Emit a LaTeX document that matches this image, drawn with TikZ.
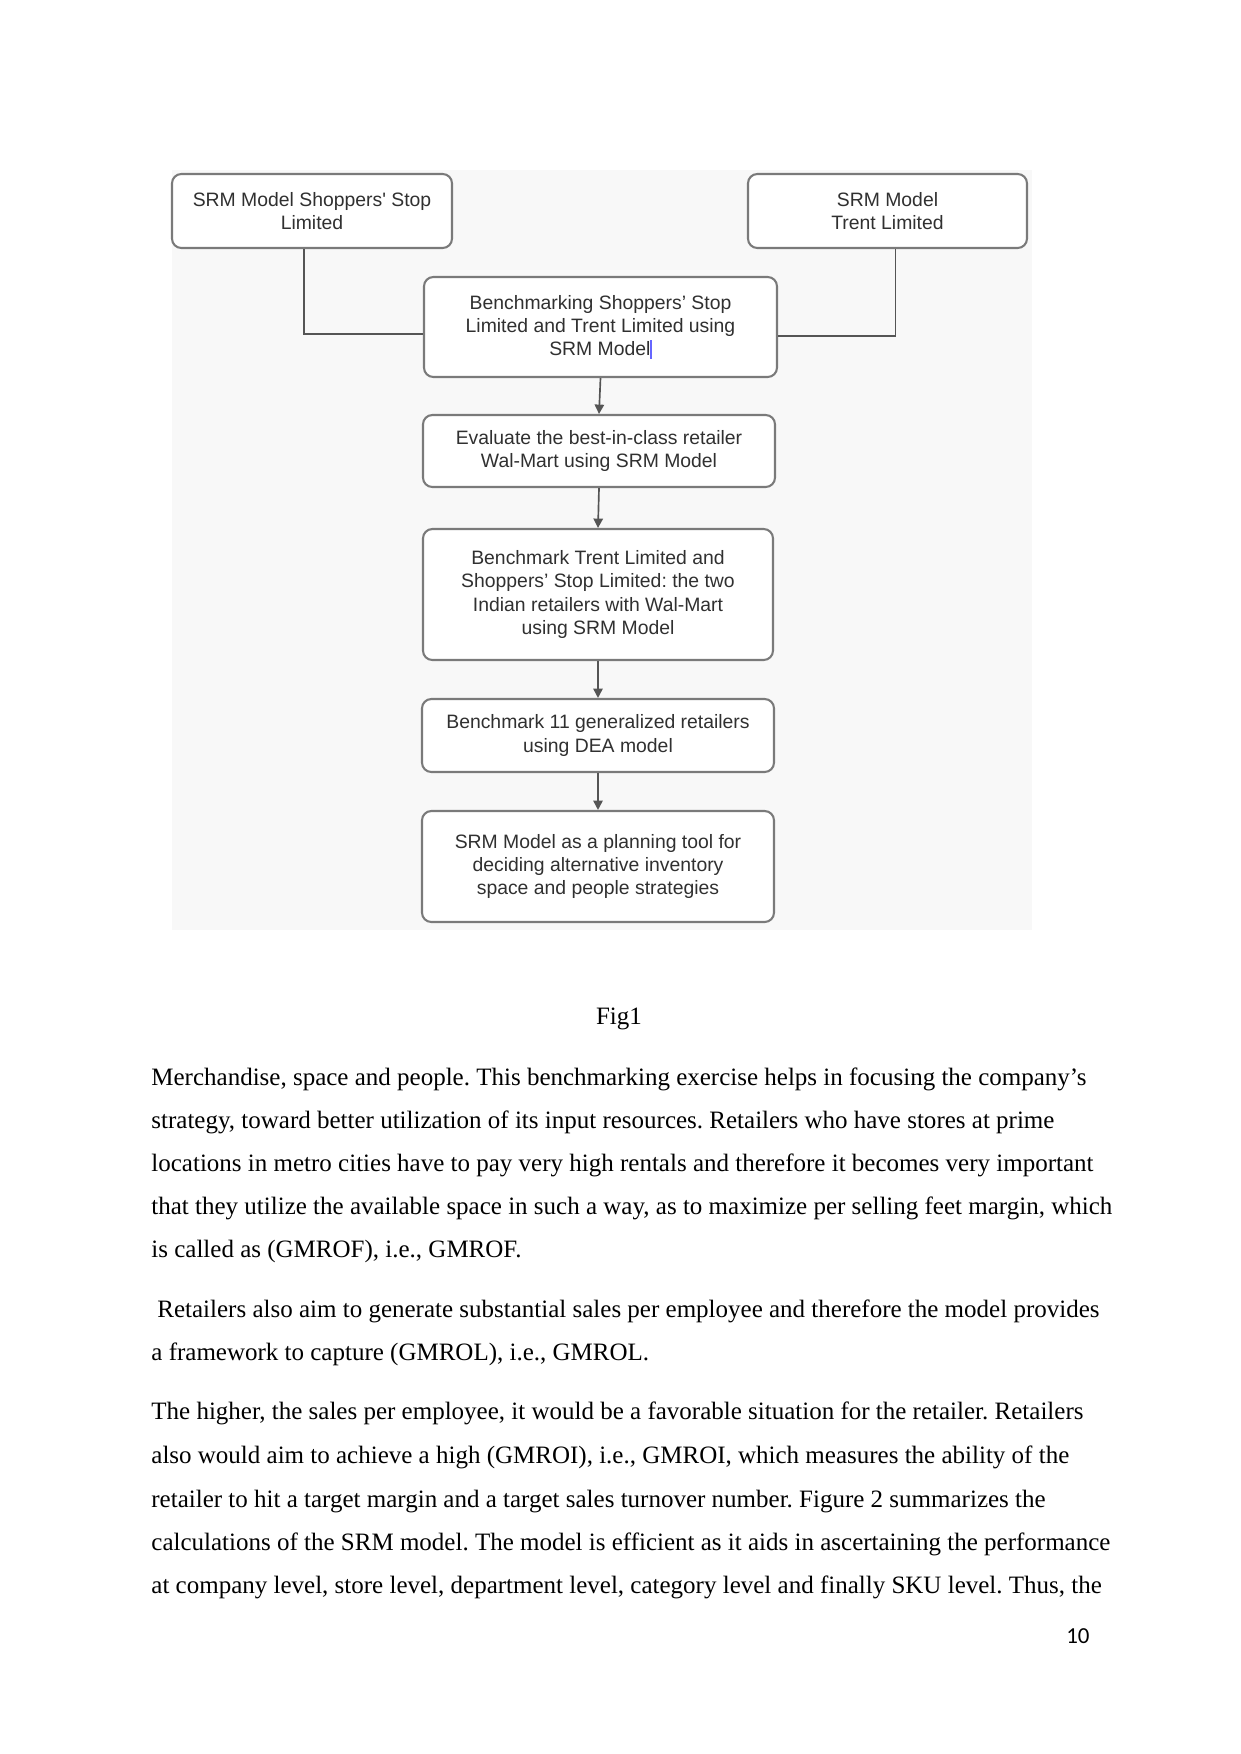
\documentclass[tikz,border=0pt]{standalone}
\usepackage{fontspec}
\setmainfont{Liberation Serif}
\newfontfamily\boxfont{Liberation Sans}
\newfontfamily\numfont{Carlito}
\usetikzlibrary{arrows.meta}
\frenchspacing
\newcommand\pxu{0.48pt}
\definecolor{boxline}{HTML}{7A7A7A}
\definecolor{boxtext}{HTML}{303030}
\definecolor{conline}{HTML}{555555}
\definecolor{figbg}{HTML}{F8F8F8}
\tikzset{
  flowbox/.style={draw=boxline, line width=1pt, rounded corners=4.5pt, fill=white,
    align=center, inner sep=2pt, text=boxtext,
    font=\boxfont\fontsize{9.3}{11.2}\selectfont},
  link/.style={draw=conline, line width=0.8pt},
  flowarrow/.style={link, -{Triangle[length=4.5pt,width=4.5pt]}},
  bodyline/.style={anchor=base west, inner sep=0pt, font=\fontsize{12}{14}\selectfont}
}
\begin{document}
\begin{tikzpicture}[x=0.48pt, y=-0.48pt]
\useasboundingbox (0,0) rectangle (1241,1754);
\fill[white] (0,0) rectangle (1241,1754);
\fill[figbg] (172,170) rectangle (1032,930);

\node[flowbox, minimum width=280*\pxu, minimum height=74*\pxu] (b1) at (312,211)
  {SRM Model Shoppers' Stop\\Limited};
\node[flowbox, minimum width=279*\pxu, minimum height=74*\pxu] (bt) at (887.5,211)
  {SRM Model\\Trent Limited};
\node[flowbox, minimum width=353*\pxu, minimum height=100*\pxu] (b2) at (600.5,327)
  {Benchmarking Shoppers’ Stop\\Limited and Trent Limited using\\SRM Model\textcolor{blue!60}{\rule[-1.5pt]{0.6pt}{9pt}}};
\node[flowbox, minimum width=352*\pxu, minimum height=72*\pxu] (b3) at (599,451)
  {Evaluate the best-in-class retailer\\Wal-Mart using SRM Model};
\node[flowbox, minimum width=350*\pxu, minimum height=131*\pxu] (b4) at (598,594.5)
  {Benchmark Trent Limited and\\Shoppers’ Stop Limited: the two\\Indian retailers with Wal-Mart\\using SRM Model};
\node[flowbox, minimum width=352*\pxu, minimum height=73*\pxu] (b5) at (598,735.5)
  {Benchmark 11 generalized retailers\\using DEA model};
\node[flowbox, minimum width=352*\pxu, minimum height=111*\pxu] (b6) at (598,866.5)
  {SRM Model as a planning tool for\\deciding alternative inventory\\space and people strategies};

\draw[link] ([xshift=-8*\pxu]b1.south) |- ([yshift=-7*\pxu]b2.west);
\draw[link] ([xshift=8*\pxu]bt.south) |- ([yshift=-9*\pxu]b2.east);
\draw[flowarrow] (b2.south) -- (b3.north);
\draw[flowarrow] (b3.south) -- (b4.north);
\draw[flowarrow] (b4.south) -- (b5.north);
\draw[flowarrow] (b5.south) -- (b6.north);

\node[anchor=base, inner sep=0pt, font=\fontsize{12}{14}\selectfont] (cap) at (619,1024) {Fig1};

\node[bodyline] (l1) at (151,1085) {Merchandise, space and people. This benchmarking exercise helps in focusing the company’s};
\node[bodyline] (l2) at (151,1128) {strategy, toward better utilization of its input resources. Retailers who have stores at prime};
\node[bodyline] (l3) at (151,1171) {locations in metro cities have to pay very high rentals and therefore it becomes very important};
\node[bodyline] (l4) at (151,1214) {that they utilize the available space in such a way, as to maximize per selling feet margin, which};
\node[bodyline] (l5) at (151,1257) {is called as (GMROF), i.e., GMROF.};
\node[bodyline] (l6) at (157,1317) {Retailers also aim to generate substantial sales per employee and therefore the model provides};
\node[bodyline] (l7) at (151,1360) {a framework to capture (GMROL), i.e., GMROL.};
\node[bodyline] (l8) at (151,1419) {The higher, the sales per employee, it would be a favorable situation for the retailer. Retailers};
\node[bodyline] (l9) at (151,1463) {also would aim to achieve a high (GMROI), i.e., GMROI, which measures the ability of the};
\node[bodyline] (l10) at (151,1507) {retailer to hit a target margin and a target sales turnover number. Figure 2 summarizes the};
\node[bodyline] (l11) at (151,1550) {calculations of the SRM model. The model is efficient as it aids in ascertaining the performance};
\node[bodyline] (l12) at (151,1593) {at company level, store level, department level, category level and finally SKU level. Thus, the};

\node[anchor=base east, inner sep=0pt, font=\numfont\fontsize{11}{13}\selectfont] (pg) at (1090,1643) {10};
\end{tikzpicture}
\end{document}
